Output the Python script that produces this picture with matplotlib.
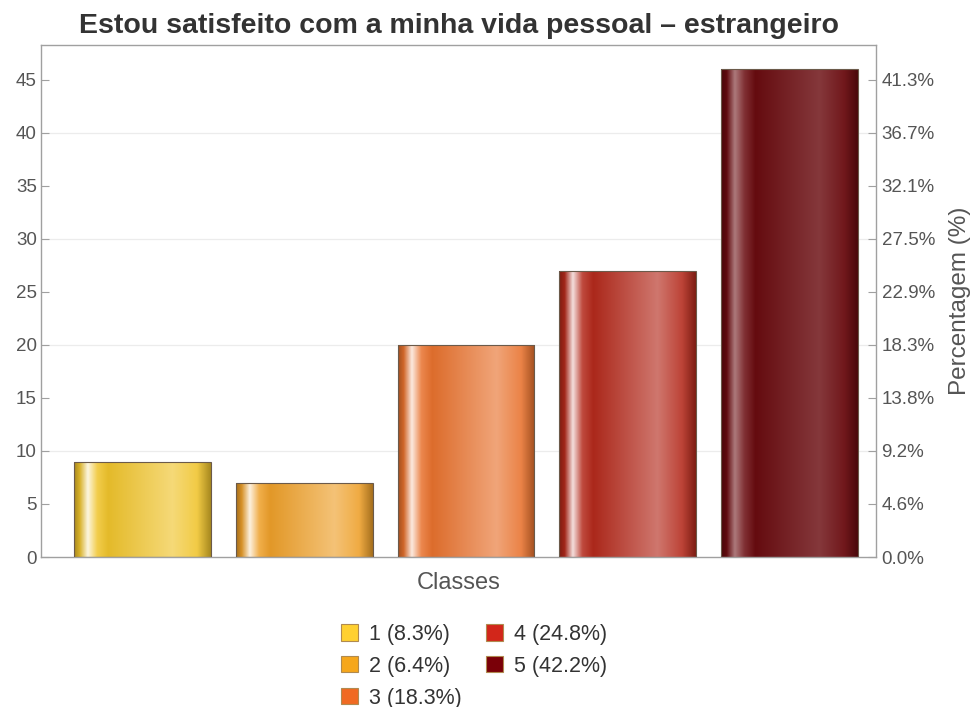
import numpy as np
import matplotlib
matplotlib.use("Agg")
import matplotlib.pyplot as plt
from matplotlib.colors import LinearSegmentedColormap, to_rgb
from matplotlib.patches import Patch
from matplotlib.ticker import FixedLocator

plt.rcParams['font.family'] = ['Liberation Sans', 'DejaVu Sans']

# Data
classes = ['1', '2', '3', '4', '5']
counts = [9, 7, 20, 27, 46]
bar_colors = ['#f0c42c', '#eea02a', '#e8722e', '#b42a1c', '#6a0c10']
legend_colors = ['#ffd030', '#f6a71c', '#f06a22', '#d2261a', '#7a0008']
title = 'Estou satisfeito com a minha vida pessoal – estrangeiro'

total = sum(counts)
percents = [100.0 * c / total for c in counts]

W, H = 971, 707
fig = plt.figure(figsize=(W / 100, H / 100), dpi=100)
ax_l, ax_r, ax_t, ax_b = 41, 876, 45, 557
ax = fig.add_axes([ax_l / W, 1 - ax_b / H, (ax_r - ax_l) / W, (ax_b - ax_t) / H])

x = np.arange(len(classes))
ymax = 48.3


def mix(c, t, amt):
    c = np.array(to_rgb(c)); t = np.array(to_rgb(t))
    return tuple(c * (1 - amt) + t * amt)


def shade_cmap(base, dark=False):
    hi = 0.45 if dark else 0.85
    stops = [
        (0.00, mix(base, 'black', 0.30)),
        (0.04, mix(base, 'black', 0.10)),
        (0.10, mix(base, 'white', hi)),
        (0.17, mix(base, 'white', 0.15)),
        (0.25, mix(base, 'black', 0.05)),
        (0.72, mix(base, 'white', 0.36 if not dark else 0.18)),
        (0.90, mix(base, 'white', 0.12 if not dark else 0.05)),
        (1.00, mix(base, 'black', 0.30)),
    ]
    return LinearSegmentedColormap.from_list('shade', stops)


grad = np.linspace(0, 1, 256).reshape(1, -1)
bars = ax.bar(x, counts, width=0.846, facecolor='none',
              edgecolor='#6b5a4a', linewidth=0.8, zorder=3)
for i, b in enumerate(bars):
    x0 = b.get_x(); w = b.get_width(); h = b.get_height()
    im = ax.imshow(grad, extent=(x0, x0 + w, 0, h), aspect='auto',
                   cmap=shade_cmap(bar_colors[i], dark=(i == 4)),
                   zorder=2, interpolation='bilinear')
    im.set_clip_path(b)
ax.set_xlim(-0.627, 4.534)
ax.set_ylim(0, ymax)

# Grid and axes styling
for yv in [10, 20, 30, 40]:
    ax.axhline(yv, color='#ececec', linewidth=0.9, zorder=1)
for s in ax.spines.values():
    s.set_color('#a0a0a0')
    s.set_linewidth(1.0)
ax.set_yticks(np.arange(0, 46, 5))
ax.set_xticks(x)
ax.set_xticklabels([])
ax.tick_params(axis='y', direction='in', length=6, color='#a0a0a0',
               labelsize=13.5, labelcolor='#555555', pad=3)
ax.tick_params(axis='x', direction='in', length=4, color='#a0a0a0')

ax2 = ax.twinx()
ax2.set_ylim(0, ymax)
rt = np.arange(0, 46, 5)
ax2.yaxis.set_major_locator(FixedLocator(rt))
ax2.set_yticklabels([f'{100.0 * v / total:.1f}%' for v in rt])
ax2.tick_params(axis='y', direction='in', length=6, color='#a0a0a0',
                labelsize=13.5, labelcolor='#555555', pad=4)
for s in ax2.spines.values():
    s.set_visible(False)
ax2.set_ylabel('Percentagem (%)', fontsize=17.5, color='#555555', labelpad=10)

ax.set_xlabel('Classes', fontsize=17, color='#555555', labelpad=7)
fig.text(0.473, 1 - 26 / H, title, ha='center', va='center',
         fontsize=20.5, fontweight='bold', color='#333333')

handles = [Patch(facecolor=legend_colors[i], edgecolor='#b08a50', linewidth=0.8,
                 label=f'{classes[i]} ({percents[i]:.1f}%)') for i in range(5)]
fig.legend(handles=handles, ncol=2, loc='upper center',
           bbox_to_anchor=(0.488, 1 - 609 / H), frameon=False,
           fontsize=15.5, labelcolor='#333333', handlelength=0.78,
           handleheight=0.78, handletextpad=0.5, columnspacing=1.15,
           labelspacing=0.5, borderpad=0.2)

fig.savefig('out.png', dpi=100)
